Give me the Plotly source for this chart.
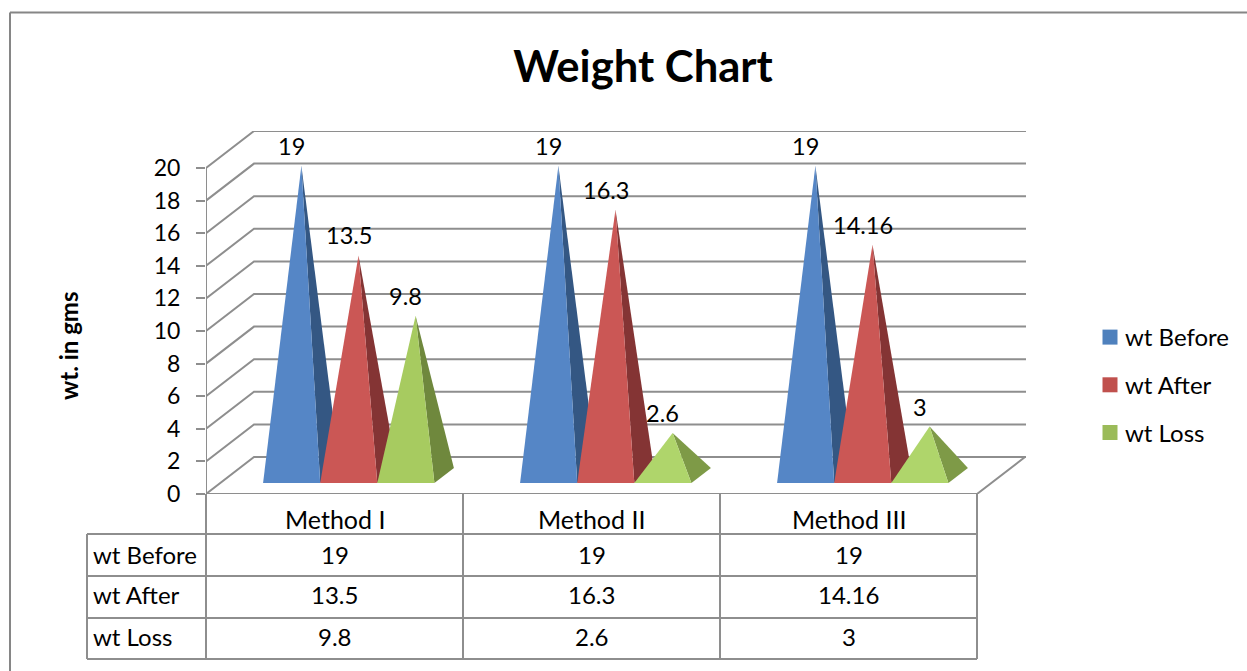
import plotly.graph_objects as go

# ---- data ----
categories = ["Method I", "Method II", "Method III"]
series_names = ["wt Before", "wt After", "wt Loss"]
wt_before = [19, 19, 19]
wt_after = [13.5, 16.3, 14.16]
wt_loss = [9.8, 2.6, 3]
table_text = [["19", "19", "19"], ["13.5", "16.3", "14.16"], ["9.8", "2.6", "3"]]
y_ticks = list(range(0, 21, 2))

# ---- style ----
FONT = "Lato"
GRID = "#8E8E8E"
front_colors = [["#5586C6"] * 3, ["#CB5755"] * 3, ["#A7CB60", "#AFD56B", "#AFD56B"]]
side_colors = [["#345783"] * 3, ["#843434"] * 3, ["#6F883D", "#7E9A47", "#7E9A47"]]
legend_colors = ["#4F81BD", "#C0504D", "#9BBB59"]

# ---- canvas geometry (pixels) ----
W, H = 1247, 671
L, R, T, B = 206, 1026, 131, 494
CAT_PX, UNIT_PX = 257.0, 16.3
DEPTH_X_PX, DEPTH_Y_PX = 48.0, 37.0
DX = DEPTH_X_PX / CAT_PX  # depth vector in axis units
DY = DEPTH_Y_PX / UNIT_PX
XMAX = (R - L) / CAT_PX
YMAX = (B - T) / UNIT_PX
BAR_W = 1 / 4.5  # gap width 150 %
D_FRONT, D_BACK = 0.297, 0.703


def paper_x(px):
    return (px - L) / (R - L)


def paper_y(py):
    return (B - py) / (B - T)


fig = go.Figure()

# walls and floor
gx, gy = [], []
for t in y_ticks:
    gx += [0, DX, XMAX, None]
    gy += [t, t + DY, t + DY, None]
gx += [0, 0, None, 0, 3, 3 + DX, None]
gy += [0, 20, None, 0, 0, DY, None]
fig.add_trace(go.Scatter(x=gx, y=gy, mode="lines", line=dict(color=GRID, width=2),
                         cliponaxis=False, showlegend=False, hoverinfo="skip"))

# pyramids
all_series = [wt_before, wt_after, wt_loss]
annotations = []
for c, cat in enumerate(categories):
    for s, values in enumerate(all_series):
        v = values[c]
        left = c + 0.75 * BAR_W + s * BAR_W
        right = left + BAR_W
        fx0, fx1 = left + D_FRONT * DX, right + D_FRONT * DX
        fy = D_FRONT * DY
        bx1, by = right + D_BACK * DX, D_BACK * DY
        ax = (left + right) / 2 + 0.5 * DX
        ay = v + 0.5 * DY
        fig.add_trace(go.Scatter(x=[fx1, bx1, ax, fx1], y=[fy, by, ay, fy], mode="none",
                                 fill="toself", fillcolor=side_colors[s][c], showlegend=False,
                                 legendgroup=series_names[s], hoverinfo="skip", cliponaxis=False))
        fig.add_trace(go.Scatter(x=[fx0, fx1, ax, fx0], y=[fy, fy, ay, fy], mode="none",
                                 fill="toself", fillcolor=front_colors[s][c], showlegend=False,
                                 legendgroup=series_names[s], name=series_names[s],
                                 text=f"{cat}: {v}", hoveron="fills", hoverinfo="text",
                                 cliponaxis=False))
        annotations.append(dict(x=ax, y=ay, xref="x", yref="y", text=str(v), showarrow=False,
                                xshift=-10, yshift=20, font=dict(size=23.5, color="#000", family=FONT)))

# legend entries
for s, name in enumerate(series_names):
    fig.add_trace(go.Scatter(x=[None], y=[None], mode="markers", name=name, legendgroup=name,
                             marker=dict(symbol="square", size=15, color=legend_colors[s],
                                         angle=90, standoff=5)))

# data table
COLS = [206, 463, 720, 977]
ROWS = [534, 576, 618, 659]
ROW_TEXT_Y = [554, 594, 636]
shapes = []


def seg(x0, y0, x1, y1, color=GRID, width=2):
    shapes.append(dict(type="line", xref="paper", yref="paper", x0=paper_x(x0), y0=paper_y(y0),
                       x1=paper_x(x1), y1=paper_y(y1), line=dict(color=color, width=width)))


for cx in COLS:
    seg(cx, B, cx, ROWS[-1])
seg(87, ROWS[0], 87, ROWS[-1])
for ry in ROWS:
    seg(87, ry, COLS[-1], ry)
# outer chart frame
seg(10, 12.5, W, 12.5, "#868686", 2)
seg(10, 12.5, 10, H, "#868686", 2)


def cell(px, py, text, anchor="center", size=24):
    annotations.append(dict(x=paper_x(px), y=paper_y(py), xref="paper", yref="paper", text=text,
                            showarrow=False, xanchor=anchor, yanchor="middle",
                            font=dict(size=size, color="#000", family=FONT)))


for c, cat in enumerate(categories):
    mid = (COLS[c] + COLS[c + 1]) / 2
    cell(mid, 519, cat, size=25)
    for r in range(3):
        cell(mid, ROW_TEXT_Y[r], table_text[r][c])
for r, name in enumerate(series_names):
    cell(91, ROW_TEXT_Y[r], name, anchor="left")

# rotated axis title
annotations.append(dict(x=paper_x(68), y=paper_y(346), xref="paper", yref="paper", text="<b>wt. in gms</b>",
                        showarrow=False, textangle=-90, xanchor="center", yanchor="middle",
                        font=dict(size=24, color="#000", family=FONT)))

fig.update_layout(
    width=W, height=H, autosize=False,
    margin=dict(l=L, r=W - R, t=T, b=H - B, pad=0),
    paper_bgcolor="white", plot_bgcolor="rgba(0,0,0,0)",
    title=dict(text="<b>Weight Chart</b>", x=643 / W, xanchor="center", y=1 - 67 / H, yanchor="middle",
               font=dict(size=43.6, color="#000", family=FONT)),
    xaxis=dict(range=[0, XMAX], visible=False, fixedrange=True),
    yaxis=dict(range=[0, YMAX], tickvals=y_ticks, showgrid=False, zeroline=False, showline=False,
               ticks="outside", ticklen=9, tickwidth=2, tickcolor=GRID, ticklabelstandoff=11,
               tickfont=dict(size=23, color="#000", family=FONT), fixedrange=True),
    legend=dict(x=(1085 - L) / (R - L), xanchor="left", y=paper_y(315), yanchor="top",
                font=dict(size=24, color="#000", family=FONT), itemsizing="trace",
                entrywidth=105, entrywidthmode="pixels",
                tracegroupgap=13.5, bgcolor="rgba(0,0,0,0)", itemclick=False, itemdoubleclick=False),
    annotations=annotations, shapes=shapes,
)

fig.write_html("out.html", config={"displayModeBar": False},
               post_script="document.body.style.margin='0';")
